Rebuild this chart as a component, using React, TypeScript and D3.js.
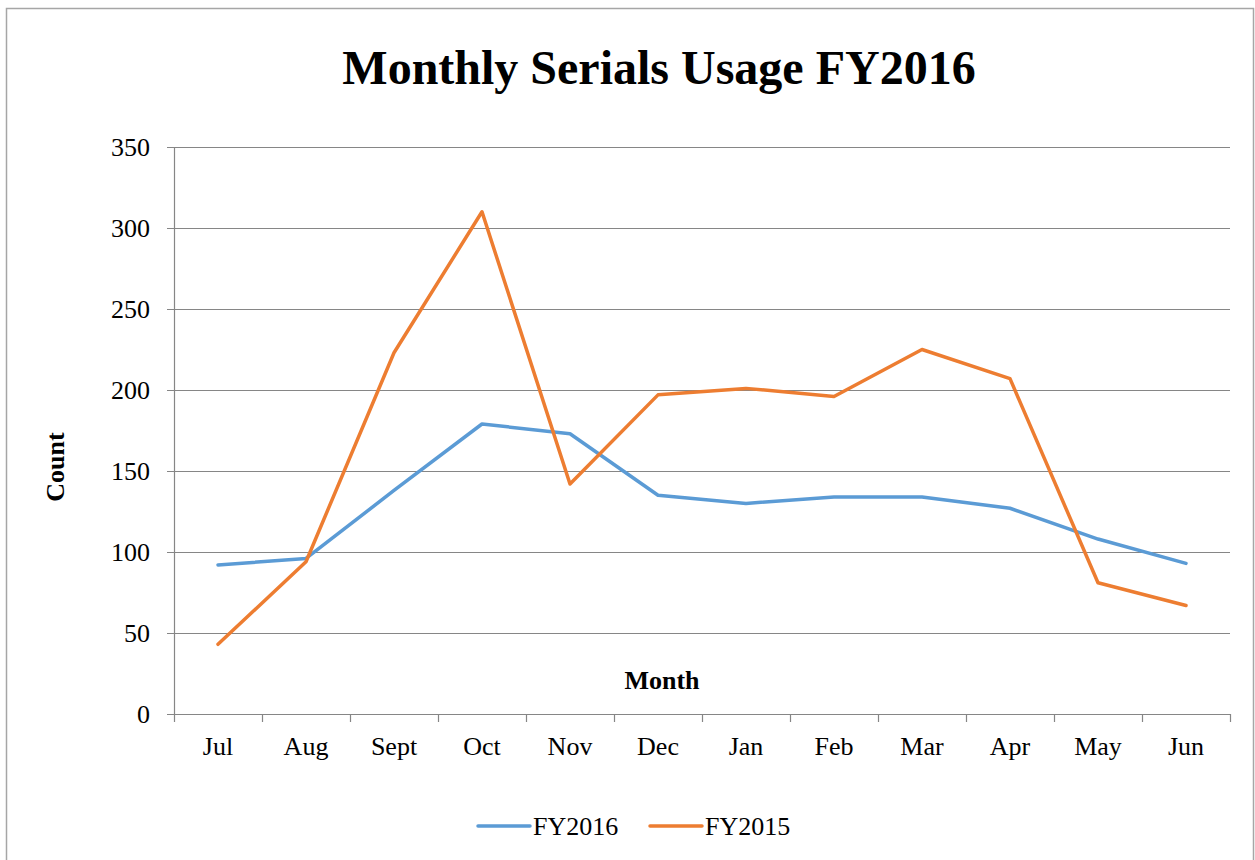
import React, { useRef, useEffect } from 'react';
import * as d3 from 'd3';

const months: string[] = ['Jul', 'Aug', 'Sept', 'Oct', 'Nov', 'Dec', 'Jan', 'Feb', 'Mar', 'Apr', 'May', 'Jun'];
const fy2016: number[] = [92, 96, 138, 179, 173, 135, 130, 134, 134, 127, 108, 93];
const fy2015: number[] = [43, 94, 223, 310, 142, 197, 201, 196, 225, 207, 81, 67];
const yTicks: number[] = [0, 50, 100, 150, 200, 250, 300, 350];

const series = [
  { name: 'FY2016', values: fy2016, color: '#5b9bd5' },
  { name: 'FY2015', values: fy2015, color: '#ed7d31' },
];

const App: React.FC = () => {
  const svgRef = useRef<SVGSVGElement | null>(null);

  useEffect(() => {
    if (!svgRef.current) return;
    const svg = d3.select(svgRef.current);
    svg.selectAll('*').remove();

    const width = 1255;
    const height = 860;
    const margin = { top: 147, right: 25, bottom: 146, left: 174 };
    const font = '"Liberation Serif", "Times New Roman", serif';

    // chart frame
    svg.append('rect')
      .attr('x', 6.5).attr('y', 8.5)
      .attr('width', 1247).attr('height', 860)
      .attr('fill', '#fff').attr('stroke', '#a6a6a6').attr('stroke-width', 1.5);

    const x = d3.scaleBand<string>()
      .domain(months)
      .range([margin.left, width - margin.right]);

    const y = d3.scaleLinear()
      .domain([0, 350])
      .range([height - margin.bottom, margin.top]);

    // gridlines
    svg.append('g')
      .selectAll('line')
      .data(yTicks)
      .enter()
      .append('line')
      .attr('x1', margin.left - 7)
      .attr('x2', width - margin.right)
      .attr('y1', d => y(d) + 0.5)
      .attr('y2', d => y(d) + 0.5)
      .attr('stroke', '#868686')
      .attr('stroke-width', 1.2);

    // y axis line
    svg.append('line')
      .attr('x1', margin.left + 0.5).attr('x2', margin.left + 0.5)
      .attr('y1', y(350)).attr('y2', y(0))
      .attr('stroke', '#868686').attr('stroke-width', 1.2);

    // x tick marks
    const tickXs = months.map(m => x(m)!).concat([x.range()[1]]);
    svg.append('g')
      .selectAll('line')
      .data(tickXs)
      .enter()
      .append('line')
      .attr('x1', d => d + 0.5).attr('x2', d => d + 0.5)
      .attr('y1', y(0)).attr('y2', y(0) + 8)
      .attr('stroke', '#868686').attr('stroke-width', 1.2);

    // y tick labels
    svg.append('g')
      .selectAll('text')
      .data(yTicks)
      .enter()
      .append('text')
      .attr('x', margin.left - 24)
      .attr('y', d => y(d))
      .attr('dy', '0.35em')
      .attr('text-anchor', 'end')
      .attr('font-family', font)
      .attr('font-size', 26)
      .text(d => d);

    // x tick labels
    svg.append('g')
      .selectAll('text')
      .data(months)
      .enter()
      .append('text')
      .attr('x', d => x(d)! + x.bandwidth() / 2)
      .attr('y', y(0) + 41)
      .attr('text-anchor', 'middle')
      .attr('font-family', font)
      .attr('font-size', 26)
      .text(d => d);

    // lines
    const line = d3.line<number>()
      .x((_, i) => x(months[i])! + x.bandwidth() / 2)
      .y(d => y(d));

    series.forEach(s => {
      svg.append('path')
        .datum(s.values)
        .attr('d', line)
        .attr('fill', 'none')
        .attr('stroke', s.color)
        .attr('stroke-width', 3.5)
        .attr('stroke-linejoin', 'round')
        .attr('stroke-linecap', 'round');
    });

    // title
    svg.append('text')
      .attr('x', 659).attr('y', 84)
      .attr('text-anchor', 'middle')
      .attr('font-family', font)
      .attr('font-weight', 'bold')
      .attr('font-size', 48)
      .text('Monthly Serials Usage FY2016');

    // axis titles
    svg.append('text')
      .attr('x', 662).attr('y', 689)
      .attr('text-anchor', 'middle')
      .attr('font-family', font)
      .attr('font-weight', 'bold')
      .attr('font-size', 26)
      .text('Month');

    svg.append('text')
      .attr('transform', 'translate(64,467) rotate(-90)')
      .attr('text-anchor', 'middle')
      .attr('font-family', font)
      .attr('font-weight', 'bold')
      .attr('font-size', 26)
      .text('Count');

    // legend
    const legendX = [478, 650];
    series.forEach((s, i) => {
      const g = svg.append('g').attr('transform', `translate(${legendX[i]},826)`);
      g.append('line')
        .attr('x1', 0).attr('x2', 52)
        .attr('y1', 0).attr('y2', 0)
        .attr('stroke', s.color).attr('stroke-width', 3.5)
        .attr('stroke-linecap', 'round');
      g.append('text')
        .attr('x', 55).attr('y', 0)
        .attr('dy', '0.35em')
        .attr('font-family', font)
        .attr('font-size', 26)
        .text(s.name);
    });
  }, []);

  return (
    <svg
      ref={svgRef}
      width={1255}
      height={860}
      style={{ position: 'absolute', left: 0, top: 0, display: 'block' }}
    />
  );
};

export default App;
